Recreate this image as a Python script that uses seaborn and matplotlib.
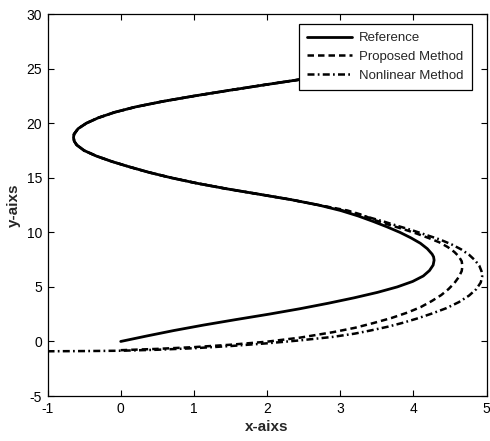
import matplotlib
matplotlib.use("Agg")
import matplotlib.pyplot as plt
import pandas as pd
import seaborn as sns

# Reference trajectory samples, in path order
ref_x = [0.00, 0.355, 0.725, 1.13, 1.57, 2.025, 2.45, 2.835, 3.19, 3.51, 3.78, 3.99,
         4.135, 4.22, 4.27, 4.283, 4.276, 4.256, 4.19, 4.095, 3.965, 3.815, 3.64, 3.45,
         3.245, 3.005, 2.705, 2.325, 1.885, 1.44, 1.04, 0.69, 0.385, 0.12, -0.125, -0.335,
         -0.50, -0.60, -0.635, -0.645, -0.6375, -0.5825, -0.47, -0.305, -0.085, 0.205,
         0.575, 1.005, 1.47, 1.95, 2.445, 2.945]
ref_y = [0.00, 0.50, 1.00, 1.50, 2.00, 2.50, 3.00, 3.50, 4.00, 4.50, 5.00, 5.50,
         6.00, 6.50, 7.00, 7.45, 7.75, 8.00, 8.50, 9.00, 9.50, 10.00, 10.50, 11.00,
         11.50, 12.00, 12.50, 13.00, 13.50, 14.00, 14.50, 15.00, 15.50, 16.00, 16.50, 17.00,
         17.50, 18.00, 18.35, 18.70, 19.00, 19.50, 20.00, 20.50, 21.00, 21.50,
         22.00, 22.50, 23.00, 23.50, 24.00, 24.50]

# Proposed method, up to where it rejoins the reference path
prop_x = [0.00, 0.50, 1.00, 1.50, 2.00, 2.45, 2.90, 3.20, 3.45, 3.70, 3.92, 4.10, 4.25,
          4.38, 4.48, 4.56, 4.62, 4.66, 4.67, 4.66, 4.62, 4.56, 4.47, 4.35, 4.20, 4.04,
          3.86, 3.64, 3.46, 3.30, 3.10]
prop_y = [-0.80, -0.68, -0.52, -0.30, -0.02, 0.35, 0.85, 1.25, 1.68, 2.15, 2.65, 3.15, 3.70,
          4.25, 4.80, 5.35, 5.90, 6.45, 6.90, 7.35, 7.80, 8.20, 8.65, 9.10, 9.50, 9.90,
          10.30, 10.75, 11.15, 11.60, 12.00]

# Nonlinear method, up to where it rejoins the reference path
nonlin_x = [-1.00, -0.50, 0.00, 0.50, 1.00, 1.50, 2.00, 2.45, 2.90, 3.20, 3.41, 3.65, 3.85,
            4.05, 4.25, 4.45, 4.62, 4.76, 4.86, 4.92, 4.94, 4.93, 4.90, 4.84, 4.76, 4.65,
            4.52, 4.36, 4.18, 3.98, 3.78, 3.59, 3.38, 3.15, 2.95]
nonlin_y = [-0.90, -0.88, -0.85, -0.76, -0.62, -0.42, -0.17, 0.10, 0.42, 0.72, 1.00, 1.35, 1.70,
            2.10, 2.55, 3.05, 3.60, 4.20, 4.80, 5.40, 5.95, 6.45, 6.95, 7.45, 7.95, 8.45,
            8.90, 9.35, 9.75, 10.20, 10.60, 11.00, 11.40, 11.80, 12.15]

# After rejoining, both estimates follow the reference path
join = ref_y.index(12.50)
prop_x_full = prop_x + ref_x[join:]
prop_y_full = prop_y + ref_y[join:]
nonlin_x_full = nonlin_x + ref_x[join:]
nonlin_y_full = nonlin_y + ref_y[join:]

sns.set_theme(style="ticks")
plt.rcParams["font.family"] = ["Liberation Sans", "DejaVu Sans"]
plt.rcParams["axes.unicode_minus"] = False

fig = plt.figure(figsize=(4.9, 4.41), dpi=100)
ax = fig.add_axes([0.097, 0.102, 0.896, 0.866])

series = [
    ("Reference", ref_x, ref_y, 2.0, None),
    ("Proposed Method", prop_x_full, prop_y_full, 1.8, (2.6, 1.6)),
    ("Nonlinear Method", nonlin_x_full, nonlin_y_full, 1.8, (2.8, 1.3, 0.7, 1.3)),
]
for name, xs, ys, lw, dash in series:
    df = pd.DataFrame({"x": xs, "y": ys})
    kw = {}
    if dash is not None:
        kw["dashes"] = dash
    sns.lineplot(data=df, x="x", y="y", sort=False, estimator=None, ax=ax,
                 color="black", linewidth=lw, label=name, **kw)

ax.set_xlim(-1, 5)
ax.set_ylim(-5, 30)
ax.set_xticks(range(-1, 6))
ax.set_yticks(range(-5, 31, 5))
ax.tick_params(direction="in", length=4, width=0.8, top=True, right=True,
               labelsize=10, colors="black", pad=4)
for side in ax.spines.values():
    side.set_linewidth(0.9)
    side.set_color("black")

ax.set_xlabel("x-aixs", fontsize=11, fontweight="bold", labelpad=3)
ax.set_ylabel("y-aixs", fontsize=11, fontweight="bold", labelpad=4)

leg = ax.legend(loc="upper right", fontsize=9.5, frameon=True, fancybox=False,
                edgecolor="black", framealpha=1, handlelength=3.4, handletextpad=0.55,
                borderpad=0.6, labelspacing=0.5, borderaxespad=0,
                bbox_to_anchor=(0.966, 0.974))
leg.get_frame().set_linewidth(0.9)

fig.savefig("out.png", dpi=100)
